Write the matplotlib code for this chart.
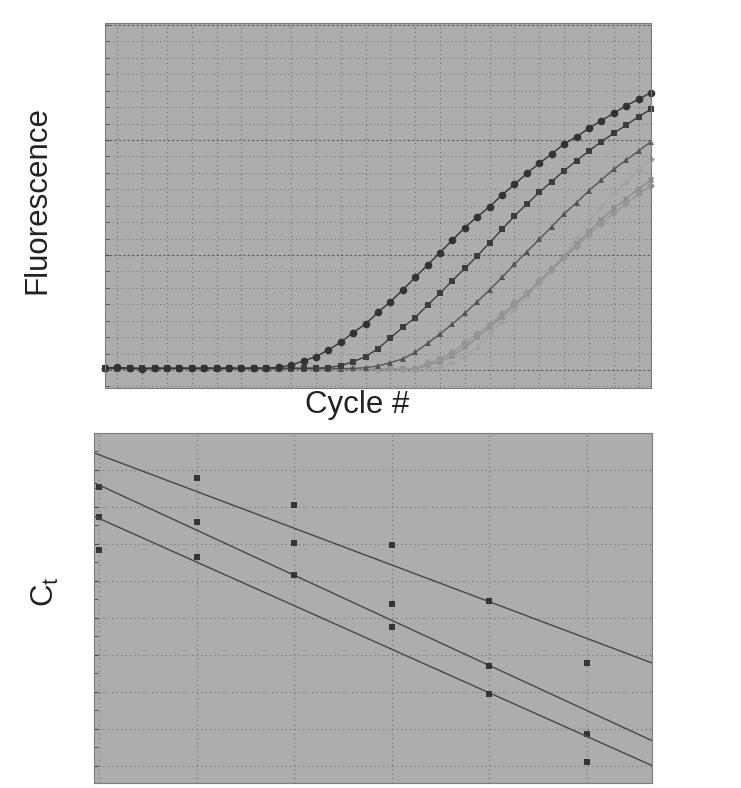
import numpy as np
from matplotlib import pyplot as plt
from matplotlib.ticker import MultipleLocator

plt.rcParams['font.family'] = ['Liberation Sans', 'DejaVu Sans']

# --- amplification curves (top panel) ---
cycles = np.arange(1, 46)

# baseline reads ~0.015 until each curve takes off
circles = [0.018, 0.022, 0.015, 0.012, 0.015, 0.014, 0.015, 0.015, 0.015, 0.015,
           0.015, 0.015, 0.015, 0.016, 0.023, 0.043, 0.078, 0.116, 0.174, 0.241,
           0.325, 0.400, 0.501, 0.594, 0.696, 0.806, 0.913, 1.020, 1.130, 1.238,
           1.333, 1.420, 1.522, 1.614, 1.710, 1.797, 1.878, 1.965, 2.029, 2.101,
           2.168, 2.232, 2.299, 2.354, 2.412]
squares = [0.015, 0.016, 0.014, 0.015, 0.015, 0.015, 0.015, 0.015, 0.015, 0.015,
           0.015, 0.015, 0.015, 0.015, 0.015, 0.015, 0.015, 0.016, 0.020, 0.038,
           0.072, 0.116, 0.185, 0.278, 0.371, 0.455, 0.565, 0.667, 0.777, 0.884,
           0.991, 1.107, 1.223, 1.339, 1.443, 1.545, 1.638, 1.733, 1.820, 1.904,
           1.986, 2.058, 2.130, 2.203, 2.267]
triangles = [0.012, 0.012, 0.012, 0.012, 0.012, 0.012, 0.012, 0.012, 0.012, 0.012,
             0.012, 0.012, 0.012, 0.012, 0.012, 0.012, 0.012, 0.012, 0.012, 0.012,
             0.013, 0.020, 0.035, 0.064, 0.096, 0.154, 0.232, 0.313, 0.400, 0.493,
             0.594, 0.696, 0.806, 0.919, 1.029, 1.136, 1.246, 1.357, 1.455, 1.559,
             1.652, 1.745, 1.826, 1.904, 1.986]
diamonds = [0.006] * 26 + [0.058, 0.093, 0.151, 0.232, 0.313, 0.391, 0.484, 0.580,
                           0.667, 0.777, 0.870, 0.971, 1.072, 1.174, 1.270, 1.362,
                           1.443, 1.530, 1.603]
crosses = [0.006] * 26 + [0.043, 0.072, 0.122, 0.197, 0.284, 0.371, 0.464, 0.565,
                          0.661, 0.768, 0.875, 0.986, 1.093, 1.203, 1.304, 1.406,
                          1.490, 1.574, 1.652]
small = [0.006] * 27 + [0.029, 0.058, 0.116, 0.203, 0.319, 0.420, 0.522, 0.638,
                        0.745, 0.864, 1.000, 1.145, 1.290, 1.420, 1.536, 1.638,
                        1.739, 1.832]

# --- standard curve (bottom panel) ---
log_conc = [0, 1, 2, 3, 4, 5]
ct_high = [22.53, 22.78, 22.04, 20.97, 19.47, 17.78]
ct_mid = [21.73, 21.59, 21.02, 19.37, 17.70, 15.86]
ct_low = [20.84, 20.66, 20.16, 18.75, 16.95, 15.10]

bg = '#adadad'
gridc = '#6f6f6f'

fig = plt.figure(figsize=(7.41, 7.88), dpi=100)
fig.patch.set_facecolor('white')

# top panel
ax1 = fig.add_axes([0.1417, 0.5076, 0.7368, 0.4632])
ax1.set_facecolor(bg)
ax1.set_xlim(1, 45)
ax1.set_ylim(-0.157, 3.017)
ax1.xaxis.set_major_locator(MultipleLocator(2))
ax1.yaxis.set_major_locator(MultipleLocator(1))
ax1.yaxis.set_minor_locator(MultipleLocator(1 / 7))
ax1.grid(True, which='major', axis='y', color='#5c5c5c', linestyle=(0, (2, 2)), linewidth=0.8)
ax1.grid(True, which='minor', axis='y', color=gridc, linestyle=(0, (1, 3)), linewidth=0.7)
ax1.grid(True, which='major', axis='x', color=gridc, linestyle=(0, (1, 3)), linewidth=0.8)
ax1.tick_params(which='both', direction='in', labelleft=False, labelbottom=False,
                length=3, color='#444444')
ax1.tick_params(axis='x', length=0)

series = [
    (small, 'D', '#a2a2a2', 3.5, 0.8),
    (crosses, 'X', '#8d8d8d', 4.5, 1.0),
    (diamonds, 'D', '#959595', 4.5, 1.0),
    (triangles, '^', '#555555', 4.5, 1.0),
    (squares, 's', '#3d3d3d', 5.0, 1.0),
    (circles, 'o', '#333333', 5.5, 1.0),
]
for vals, mk, col, ms, lw in series:
    ax1.plot(cycles, vals, color=col, marker=mk, markersize=ms, linewidth=lw,
             markeredgewidth=0, clip_on=False)

for s in ax1.spines.values():
    s.set_color('#7d7d7d')
    s.set_linewidth(0.8)

fig.text(37 / 741, 1 - 200 / 788, 'Fluorescence', rotation=90, fontsize=22.5,
         ha='center', va='center', color='#222222')
fig.text(357 / 741, 1 - 405 / 788, 'Cycle #', fontsize=22.5,
         ha='center', va='center', color='#222222')

# bottom panel
ax2 = fig.add_axes([0.1275, 0.00635, 0.7524, 0.4442])
ax2.set_facecolor(bg)
ax2.set_xlim(-0.047, 5.667)
ax2.set_ylim(14.54, 24)
ax2.xaxis.set_major_locator(MultipleLocator(1))
ax2.yaxis.set_major_locator(MultipleLocator(1))
ax2.yaxis.set_minor_locator(MultipleLocator(0.5))
ax2.grid(True, which='major', color=gridc, linestyle=(0, (1, 3)), linewidth=0.8)
ax2.tick_params(which='both', direction='in', labelleft=False, labelbottom=False,
                length=3, color='#444444')
ax2.tick_params(axis='x', length=0)

xl = np.array(ax2.get_xlim())
for ct in (ct_high, ct_mid, ct_low):
    k, b = np.polyfit(log_conc, ct, 1)
    ax2.plot(xl, k * xl + b, color='#474747', linewidth=1.0)
    ax2.plot(log_conc, ct, linestyle='none', marker='s', markersize=5,
             color='#353535', markeredgewidth=0, clip_on=False)

for s in ax2.spines.values():
    s.set_color('#7d7d7d')
    s.set_linewidth(0.8)

fig.text(45 / 741, 1 - 592 / 788, r'C$_\mathregular{t}$', rotation=90, fontsize=22.5,
         ha='center', va='center', color='#222222')

fig.savefig('out.png', dpi=100)
